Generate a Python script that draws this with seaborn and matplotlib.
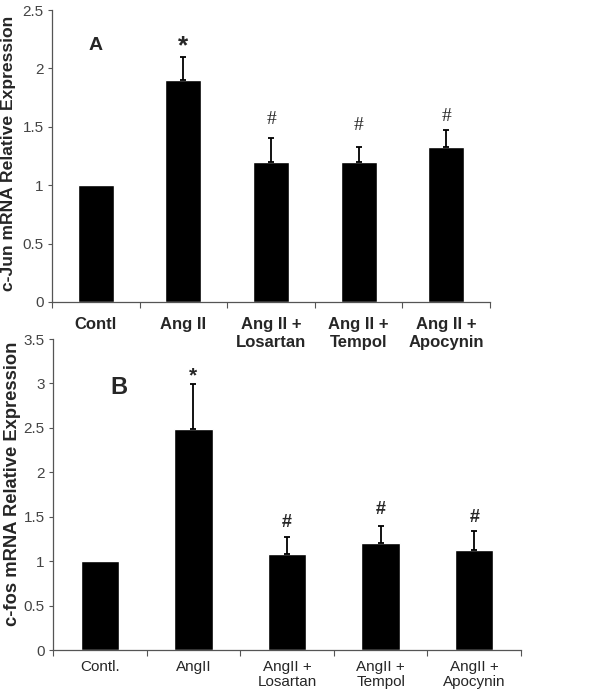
import matplotlib
matplotlib.use("Agg")
import matplotlib.pyplot as plt
import seaborn as sns
from matplotlib.ticker import FixedLocator, FuncFormatter

# data
groups_a = ["Contl", "Ang II", "Ang II +\nLosartan", "Ang II +\nTempol", "Ang II +\nApocynin"]
jun_mean = [1.0, 1.9, 1.2, 1.2, 1.33]
jun_err = [0.0, 0.2, 0.2, 0.13, 0.14]
jun_marks = ["", "*", "#", "#", "#"]
jun_mark_y = [0, 2.19, 1.56, 1.51, 1.59]

groups_b = ["Contl.", "AngII", "AngII +\nLosartan", "AngII +\nTempol", "AngII +\nApocynin"]
fos_mean = [1.0, 2.49, 1.08, 1.2, 1.13]
fos_err = [0.0, 0.5, 0.19, 0.2, 0.21]
fos_marks = ["", "*", "#", "#", "#"]
fos_mark_y = [0, 3.08, 1.43, 1.58, 1.49]

sns.set_style("ticks")
plt.rcParams['font.family'] = ['Liberation Sans', 'DejaVu Sans']

fig = plt.figure(figsize=(6.15, 6.95), dpi=100)
ax_b = fig.add_axes([0.0862, 0.0647, 0.7610, 0.4475])
ax_a = fig.add_axes([0.0846, 0.5655, 0.7122, 0.4201])
ax_a.patch.set_visible(False)
ax_b.patch.set_visible(False)


def draw_panel(ax, groups, means, errs, ymax, step):
    sns.barplot(x=groups, y=means, color="black", saturation=1, width=0.41,
                errorbar=None, ax=ax)
    # upper-only error bars at the bar centres
    for patch, m, e in zip(ax.patches, means, errs):
        if e > 0:
            xc = patch.get_x() + patch.get_width() / 2
            ax.errorbar(xc, m, yerr=[[0], [e]], fmt="none", ecolor="black",
                        elinewidth=1.3, capsize=2.2, capthick=1.3)
    ax.set_xlim(-0.5, len(groups) - 0.5)
    ax.set_ylim(0, ymax)
    yt = [i * step for i in range(int(round(ymax / step)) + 1)]
    ax.set_yticks(yt)
    ax.yaxis.set_major_formatter(FuncFormatter(lambda v, p: "%g" % v))
    ax.tick_params(axis="y", length=3, width=0.8, colors="#555555",
                   labelcolor="#444444", labelsize=11, pad=3)
    # category boundary ticks on x
    ax.xaxis.set_minor_locator(FixedLocator([i - 0.5 for i in range(len(groups) + 1)]))
    ax.tick_params(axis="x", which="minor", length=4, width=0.8, color="#555555")
    ax.tick_params(axis="x", which="major", length=0)
    for s in ["top", "right"]:
        ax.spines[s].set_visible(False)
    for s in ["left", "bottom"]:
        ax.spines[s].set_color("#555555")
        ax.spines[s].set_linewidth(0.9)


draw_panel(ax_a, groups_a, jun_mean, jun_err, 2.5, 0.5)
draw_panel(ax_b, groups_b, fos_mean, fos_err, 3.5, 0.5)

# x tick labels
ax_a.tick_params(axis="x", which="major", pad=11)
for lab in ax_a.get_xticklabels():
    lab.set_fontsize(12)
    lab.set_fontweight("bold")
    lab.set_linespacing(1.25)
ax_b.tick_params(axis="x", which="major", pad=7)
for lab in ax_b.get_xticklabels():
    lab.set_fontsize(11)
    lab.set_linespacing(1.1)

# y labels
ax_a.set_ylabel("c-Jun mRNA Relative Expression", fontsize=12.6, fontweight="bold")
ax_a.yaxis.set_label_coords(-0.082, 0.51)
ax_b.set_ylabel("c-fos mRNA Relative Expression", fontsize=13.2, fontweight="bold")
ax_b.yaxis.set_label_coords(-0.069, 0.535)

# significance marks
for i, (mk, y) in enumerate(zip(jun_marks, jun_mark_y)):
    if mk == "*":
        ax_a.text(i, y, mk, ha="center", va="center", fontsize=19, fontweight="bold")
    elif mk:
        ax_a.text(i, y, mk, ha="center", va="center", fontsize=14,
                  family=["Liberation Serif", "DejaVu Serif"])
for i, (mk, y) in enumerate(zip(fos_marks, fos_mark_y)):
    if mk == "*":
        ax_b.text(i, y, mk, ha="center", va="center", fontsize=15, fontweight="bold")
    elif mk:
        ax_b.text(i, y, mk, ha="center", va="center", fontsize=13, fontweight="bold")

# panel letters
ax_a.text(0.0, 2.2, "A", ha="center", va="center", fontsize=14, fontweight="bold")
ax_b.text(0.2, 2.95, "B", ha="center", va="center", fontsize=17, fontweight="bold")

fig.savefig("out.png", dpi=100, facecolor="white")
